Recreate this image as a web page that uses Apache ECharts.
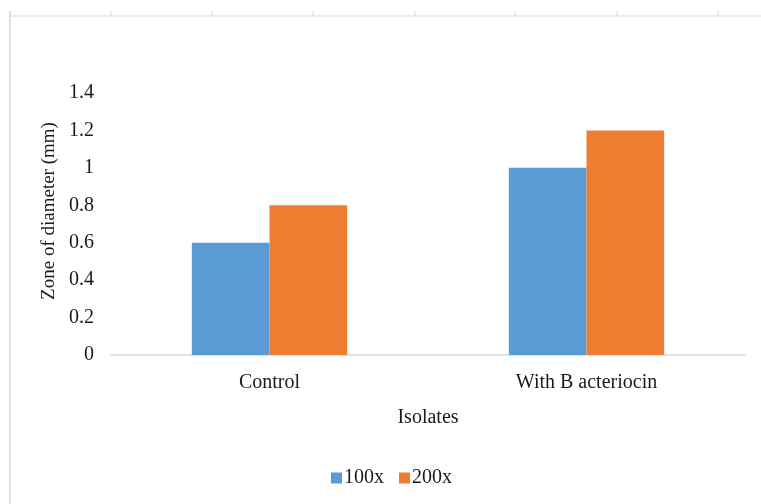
<!DOCTYPE html>
<html>
<head>
<meta charset="utf-8">
<script src="https://cdn.jsdelivr.net/npm/echarts@6/dist/echarts.min.js"></script>
<style>
  html, body { margin: 0; padding: 0; background: #fff; }
  #chart { width: 761px; height: 504px; }
</style>
</head>
<body>
<div id="chart"></div>
<script>
// Zone of inhibition diameters by isolate and magnification
const categories = ['Control', 'With B acteriocin'];
const seriesNames = ['100x', '200x'];
const values100x = [0.6, 1.0];
const values200x = [0.8, 1.2];
const yTicks = [0, 0.2, 0.4, 0.6, 0.8, 1, 1.2, 1.4];

const font = '"Liberation Serif", "Times New Roman", serif';
const textColor = '#1a1a1a';
const frameColor = '#d9d9d9';

// Spreadsheet-style frame ticks along the top edge
const frameTickXs = [10, 111, 212, 313, 415, 515, 617, 718];
const frameGraphics = [
  { type: 'line', shape: { x1: 10, y1: 16, x2: 761, y2: 16 }, style: { stroke: frameColor, lineWidth: 1 } },
  { type: 'line', shape: { x1: 10, y1: 11, x2: 10, y2: 504 }, style: { stroke: frameColor, lineWidth: 1.5 } }
].concat(frameTickXs.map(x => ({
  type: 'line', shape: { x1: x, y1: 11, x2: x, y2: 16 }, style: { stroke: frameColor, lineWidth: 1 }
})));

const chart = echarts.init(document.getElementById('chart'), null, { renderer: 'canvas' });
chart.setOption({
  animation: false,
  backgroundColor: '#fff',
  textStyle: { fontFamily: font, color: textColor },
  graphic: frameGraphics,
  grid: { left: 111, right: 16, top: 93, bottom: 149, containLabel: false },
  legend: {
    data: seriesNames,
    left: 326,
    top: 463,
    itemWidth: 11,
    itemHeight: 11,
    itemGap: 15,
    icon: 'rect',
    textStyle: { fontFamily: font, fontSize: 20, color: textColor, padding: [0, 0, 0, -3] }
  },
  xAxis: {
    type: 'category',
    data: categories,
    name: 'Isolates',
    nameLocation: 'middle',
    nameGap: 53,
    nameTextStyle: { fontFamily: font, fontSize: 20, color: textColor },
    axisLine: { lineStyle: { color: frameColor, width: 1.5 } },
    axisTick: { show: false },
    axisLabel: { fontFamily: font, fontSize: 20, color: textColor, margin: 18 }
  },
  yAxis: {
    type: 'value',
    min: yTicks[0],
    max: yTicks[yTicks.length - 1],
    interval: 0.2,
    name: 'Zone of diameter (mm)',
    nameLocation: 'middle',
    nameGap: 49,
    nameRotate: 90,
    nameTextStyle: { fontFamily: font, fontSize: 19, color: textColor, padding: [0, 0, 0, 26] },
    axisLine: { show: false },
    axisTick: { show: false },
    splitLine: { show: false },
    axisLabel: {
      fontFamily: font, fontSize: 20, color: textColor, margin: 17,
      formatter: v => String(Math.round(v * 10) / 10)
    }
  },
  series: [
    { name: seriesNames[0], type: 'bar', data: values100x, itemStyle: { color: '#5B9BD5' }, barGap: '0%', barCategoryGap: '51%' },
    { name: seriesNames[1], type: 'bar', data: values200x, itemStyle: { color: '#ED7D31' }, barGap: '0%', barCategoryGap: '51%' }
  ]
});
</script>
</body>
</html>
